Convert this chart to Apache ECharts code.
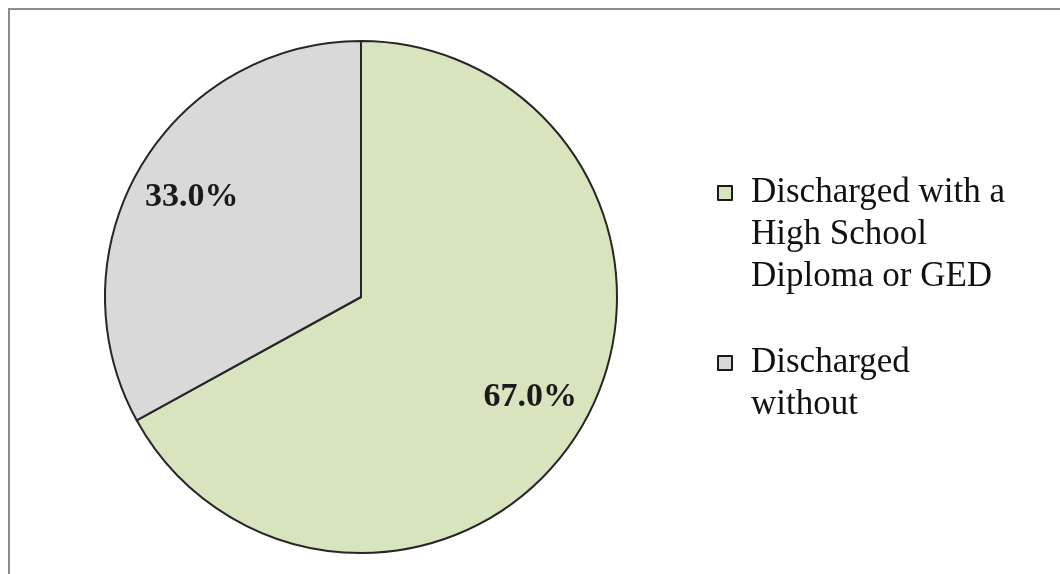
<!DOCTYPE html>
<html>
<head>
<meta charset="utf-8">
<script src="https://cdn.jsdelivr.net/npm/echarts@6/dist/echarts.min.js"></script>
<style>
html,body{margin:0;padding:0;background:#fff;}
#chart{width:1060px;height:574px;}
</style>
</head>
<body>
<div id="chart"></div>
<script>
const categories = ['Discharged with a\nHigh School\nDiploma or GED', 'Discharged\nwithout'];
const values = [67.0, 33.0];
const colors = ['#d7e4bd', '#d9d9d9'];

const chart = echarts.init(document.getElementById('chart'), null, {renderer: 'canvas'});
const serif = '"Liberation Serif", "DejaVu Serif", serif';

const pieData = categories.map((c, i) => ({
  name: c, value: values[i], itemStyle: {color: colors[i]}
}));

// pad with leading blank lines so the legend icon lines up with the first text line
function legendText(name) {
  const n = name.split('\n').length;
  return '\n'.repeat(n - 1) + name;
}

const option = {
  animation: false,
  backgroundColor: '#fff',
  graphic: [{
    type: 'rect', left: 8, top: 8, z: -10,
    shape: {width: 1200, height: 700},
    style: {fill: '#fff', stroke: '#8c8c8c', lineWidth: 2}
  }],
  legend: {
    orient: 'vertical',
    left: 717, top: 88,
    padding: 0,
    itemGap: 2,
    itemWidth: 14, itemHeight: 14,
    icon: 'rect',
    selectedMode: false,
    itemStyle: {borderColor: '#1a1a1a', borderWidth: 2},
    formatter: legendText,
    textStyle: {fontFamily: serif, fontSize: 35, lineHeight: 42, color: '#111', padding: [0, 0, 0, 14]},
    data: categories.map(c => ({name: c}))
  },
  series: [{
    type: 'pie',
    center: [361, 297],
    radius: [0, 256],
    startAngle: 90,
    clockwise: true,
    silent: true,
    label: {show: false},
    labelLine: {show: false},
    itemStyle: {borderColor: '#262626', borderWidth: 2},
    data: pieData
  }, {
    type: 'pie',
    center: [361, 297],
    radius: [131, 256],
    startAngle: 90,
    clockwise: true,
    silent: true,
    legendHoverLink: false,
    itemStyle: {color: 'rgba(0,0,0,0)', borderWidth: 0},
    label: {
      show: true, position: 'inside',
      formatter: p => p.value.toFixed(1) + '%',
      fontFamily: serif, fontSize: 34, fontWeight: 'bold', color: '#1a1a1a'
    },
    labelLine: {show: false},
    data: categories.map((c, i) => ({name: c, value: values[i]}))
  }]
};
chart.setOption(option);
</script>
</body>
</html>
